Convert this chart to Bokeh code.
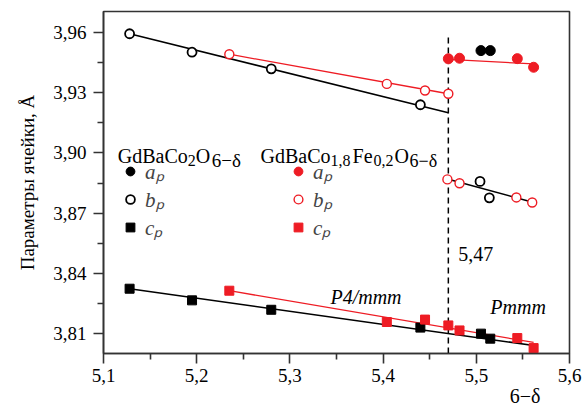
from bokeh.plotting import figure
from bokeh.models import (Range1d, FixedTicker, CustomJSTickFormatter, Label, Title,
                          Legend, LegendItem)
from bokeh.embed import file_html
from bokeh.resources import INLINE

# ---------------- data ----------------
# GdBaCo2O6-d (black)
co_a_x = [5.505, 5.515]
co_a_y = [3.9510, 3.9510]
co_b_x = [5.128, 5.195, 5.280, 5.440, 5.504, 5.514]
co_b_y = [3.9594, 3.9502, 3.9419, 3.9240, 3.8858, 3.8776]
co_c_x = [5.128, 5.195, 5.280, 5.440, 5.505, 5.515]
co_c_y = [3.8323, 3.8265, 3.8218, 3.8129, 3.8099, 3.8074]

# GdBaCo1.8Fe0.2O6-d (red)
fe_a_x = [5.470, 5.482, 5.544, 5.5615]
fe_a_y = [3.9469, 3.9472, 3.9470, 3.9427]
fe_b_x = [5.235, 5.404, 5.445, 5.470, 5.469, 5.482, 5.543, 5.560]
fe_b_y = [3.9492, 3.9344, 3.9311, 3.9295, 3.8868, 3.8849, 3.8778, 3.8753]
fe_c_x = [5.235, 5.404, 5.445, 5.470, 5.482, 5.544, 5.5615]
fe_c_y = [3.8313, 3.8157, 3.8169, 3.8140, 3.8115, 3.8077, 3.8027]

# fitted lines (end points)
fit_co_b_tet_x = [5.128, 5.470]
fit_co_b_tet_y = [3.9594, 3.9200]
fit_fe_b_tet_x = [5.235, 5.470]
fit_fe_b_tet_y = [3.9492, 3.9295]
fit_fe_a_ort_x = [5.470, 5.5615]
fit_fe_a_ort_y = [3.9466, 3.9444]
fit_b_ort_x = [5.470, 5.5615]
fit_b_ort_y = [3.8869, 3.8753]
fit_co_c_x = [5.128, 5.5615]
fit_co_c_y = [3.8323, 3.8040]
fit_fe_c_x = [5.235, 5.5615]
fit_fe_c_y = [3.8313, 3.8055]

transition_x = 5.47
x_ticks = [5.1, 5.2, 5.3, 5.4, 5.5, 5.6]
y_ticks = [3.81, 3.84, 3.87, 3.90, 3.93, 3.96]

# ---------------- styling ----------------
FONT = "Liberation Serif"
RED = "#ee1c24"
BLACK = "#000000"
AX = "#333333"

p = figure(width=585, height=413, output_backend="svg", toolbar_location=None,
           x_range=Range1d(5.1, 5.6), y_range=Range1d(3.800, 3.9705),
           min_border_left=103, min_border_right=16, min_border_top=11, min_border_bottom=60)
p.xgrid.visible = False
p.ygrid.visible = False
p.outline_line_color = AX
p.outline_line_width = 1.6
p.background_fill_color = "white"

p.xaxis.ticker = FixedTicker(ticks=x_ticks, minor_ticks=[5.15, 5.25, 5.35, 5.45, 5.55])
p.yaxis.ticker = FixedTicker(ticks=y_ticks, minor_ticks=[3.825, 3.855, 3.885, 3.915, 3.945])
p.xaxis.formatter = CustomJSTickFormatter(code="return tick.toFixed(1).replace('.', ',')")
p.yaxis.formatter = CustomJSTickFormatter(code="return tick.toFixed(2).replace('.', ',')")
for ax in (p.xaxis, p.yaxis):
    ax.axis_line_color = AX
    ax.axis_line_width = 1.6
    ax.major_tick_line_color = AX
    ax.minor_tick_line_color = AX
    ax.major_tick_line_width = 1.6
    ax.minor_tick_line_width = 1.6
    ax.major_tick_in = 0
    ax.minor_tick_in = 0
    ax.major_tick_out = 10
    ax.minor_tick_out = 6
    ax.major_label_text_font = FONT
    ax.major_label_text_font_size = "19px"
    ax.major_label_text_color = "black"
p.xaxis.major_label_standoff = 5
p.yaxis.major_label_standoff = 7
p.yaxis.axis_label = "Параметры ячейки, Å"
p.yaxis.axis_label_text_font = FONT
p.yaxis.axis_label_text_font_size = "19px"
p.yaxis.axis_label_text_font_style = "normal"
p.yaxis.axis_label_text_color = "black"
p.yaxis.axis_label_standoff = 12

# x-axis label "6−δ", right-aligned under the tick labels
p.add_layout(Title(text="6−δ", align="right", offset=29, standoff=0, vertical_align="top",
                   text_font=FONT, text_font_size="20px", text_font_style="normal",
                   text_color="black"), "below")

# transition line
p.line([transition_x, transition_x], [3.800, 3.9585], line_color=BLACK,
       line_width=1.5, line_dash="6 4")

# fit lines
p.line(fit_co_b_tet_x, fit_co_b_tet_y, line_color=BLACK, line_width=1.5)
p.line(fit_b_ort_x, fit_b_ort_y, line_color=BLACK, line_width=1.5)
p.line(fit_co_c_x, fit_co_c_y, line_color=BLACK, line_width=1.5)
p.line(fit_fe_b_tet_x, fit_fe_b_tet_y, line_color=RED, line_width=1.3)
p.line(fit_fe_a_ort_x, fit_fe_a_ort_y, line_color=RED, line_width=1.3)
p.line(fit_fe_c_x, fit_fe_c_y, line_color=RED, line_width=1.3)

# markers
r_co_a = p.scatter(co_a_x, co_a_y, marker="circle", size=10, fill_color=BLACK, line_color=BLACK)
r_co_b = p.scatter(co_b_x, co_b_y, marker="circle", size=9, fill_color="white",
                   line_color=BLACK, line_width=1.8)
r_co_c = p.scatter(co_c_x, co_c_y, marker="square", size=9, fill_color=BLACK, line_color=BLACK)
r_fe_a = p.scatter(fe_a_x, fe_a_y, marker="circle", size=10, fill_color=RED, line_color=RED)
r_fe_b = p.scatter(fe_b_x, fe_b_y, marker="circle", size=9, fill_color="white",
                   line_color=RED, line_width=1.4)
r_fe_c = p.scatter(fe_c_x, fe_c_y, marker="square", size=9, fill_color=RED, line_color=RED)


def make_legend(items, loc):
    return Legend(items=items, location=loc, orientation="vertical",
                  glyph_width=22, glyph_height=22, label_height=22, spacing=-3,
                  padding=0, margin=0, border_line_color=None, background_fill_alpha=0,
                  label_text_font=FONT, label_text_font_size="21px",
                  label_text_font_style="italic", label_standoff=4)


leg1 = make_legend([LegendItem(label="aₚ", renderers=[r_co_a]),
                    LegendItem(label="bₚ", renderers=[r_co_b]),
                    LegendItem(label="cₚ", renderers=[r_co_c])], (16, 112))
leg2 = make_legend([LegendItem(label="aₚ", renderers=[r_fe_a]),
                    LegendItem(label="bₚ", renderers=[r_fe_b]),
                    LegendItem(label="cₚ", renderers=[r_fe_c])], (184, 112))
p.add_layout(leg1)
p.add_layout(leg2)


def txt(x, y, text, size="20px", dx=0, dy=0, style="normal"):
    p.add_layout(Label(x=x, y=y, text=text, x_offset=dx, y_offset=dy,
                       text_font=FONT, text_font_size=size, text_font_style=style,
                       text_baseline="alphabetic", text_color="black"))


# legend titles with subscripts
t1x, t2x, ty = 5.1153, 5.2685, 3.8987
txt(t1x, ty, "GdBaCo")
txt(t1x, ty, "2", "16px", dx=70, dy=-5)
txt(t1x, ty, "O", dx=78)
txt(t1x, ty, "6−δ", "19px", dx=94, dy=-5)

txt(t2x, ty, "GdBaCo")
txt(t2x, ty, "1,8", "16px", dx=70, dy=-5)
txt(t2x, ty, "Fe", dx=92)
txt(t2x, ty, "0,2", "16px", dx=113, dy=-5)
txt(t2x, ty, "O", dx=134)
txt(t2x, ty, "6−δ", "18px", dx=149, dy=-5)

# annotations
txt(5.4807, 3.8494, "5,47")
txt(5.3435, 3.8280, "P4/mmm", style="italic")
txt(5.5150, 3.8231, "Pmmm", style="italic")

open("out.html", "w").write(file_html(p, INLINE))
